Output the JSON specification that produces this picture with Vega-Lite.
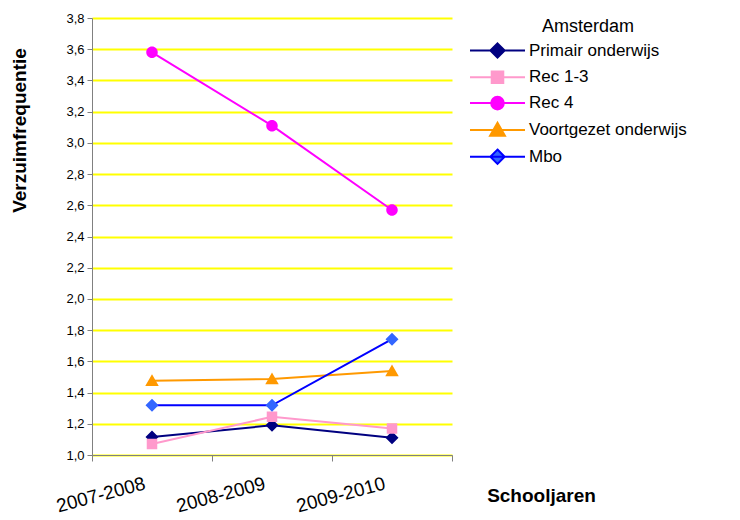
{
  "$schema": "https://vega.github.io/schema/vega-lite/v6.json",
  "width": 360,
  "height": 437,
  "autosize": "none",
  "padding": {"left": 92, "top": 18, "right": 288, "bottom": 65},
  "background": "white",
  "config": {
    "font": "Liberation Sans",
    "view": {"stroke": null}
  },
  "data": {
    "values": [
      {"serie": "Primair onderwijs", "jaar": "2007-2008", "waarde": 1.115},
      {"serie": "Primair onderwijs", "jaar": "2008-2009", "waarde": 1.19},
      {"serie": "Primair onderwijs", "jaar": "2009-2010", "waarde": 1.11},
      {"serie": "Rec 1-3", "jaar": "2007-2008", "waarde": 1.07},
      {"serie": "Rec 1-3", "jaar": "2008-2009", "waarde": 1.245},
      {"serie": "Rec 1-3", "jaar": "2009-2010", "waarde": 1.17},
      {"serie": "Rec 4", "jaar": "2007-2008", "waarde": 3.58},
      {"serie": "Rec 4", "jaar": "2008-2009", "waarde": 3.11},
      {"serie": "Rec 4", "jaar": "2009-2010", "waarde": 2.57},
      {"serie": "Voortgezet onderwijs", "jaar": "2007-2008", "waarde": 1.475},
      {"serie": "Voortgezet onderwijs", "jaar": "2008-2009", "waarde": 1.487},
      {"serie": "Voortgezet onderwijs", "jaar": "2009-2010", "waarde": 1.538},
      {"serie": "Mbo", "jaar": "2007-2008", "waarde": 1.318},
      {"serie": "Mbo", "jaar": "2008-2009", "waarde": 1.318},
      {"serie": "Mbo", "jaar": "2009-2010", "waarde": 1.742}
    ]
  },
  "encoding": {
    "x": {
      "field": "jaar",
      "type": "nominal",
      "bandPosition": 0.5,
      "scale": {"type": "band", "paddingInner": 0, "paddingOuter": 0},
      "axis": {
        "title": "Schooljaren",
        "titleFont": "Liberation Sans",
        "titleFontSize": 19,
        "titleFontWeight": "bold",
        "titleColor": "black",
        "titleX": 449,
        "titleY": 46,
        "titleAlign": "center",
        "titleBaseline": "alphabetic",
        "labelAngle": -15,
        "labelAlign": "right",
        "labelBaseline": "top",
        "labelFontSize": 19,
        "labelColor": "black",
        "labelPadding": 13,
        "labelOffset": -10,
        "tickBand": "extent",
        "tickColor": "#808080",
        "tickSize": 6,
        "domainColor": "#808080",
        "domainWidth": 1,
        "grid": false
      }
    },
    "y": {
      "field": "waarde",
      "type": "quantitative",
      "scale": {"domain": [1.0, 3.8], "nice": false, "zero": false},
      "axis": {
        "title": "Verzuimfrequentie",
        "titleFont": "Liberation Sans",
        "titleFontSize": 19,
        "titleFontWeight": "bold",
        "titleColor": "black",
        "titleX": -73,
        "titleY": 112,
        "titleAlign": "center",
        "titleBaseline": "middle",
        "titleAngle": -90,
        "values": [1.0, 1.2, 1.4, 1.6, 1.8, 2.0, 2.2, 2.4, 2.6, 2.8, 3.0, 3.2, 3.4, 3.6, 3.8],
        "labelExpr": "replace(format(datum.value, '.1f'), '.', ',')",
        "labelFontSize": 13,
        "labelColor": "black",
        "labelPadding": 3,
        "tickColor": "#808080",
        "tickSize": 5,
        "domainColor": "#808080",
        "grid": true,
        "gridColor": "#FFFF00",
        "gridWidth": 2
      }
    }
  },
  "layer": [
    {
      "mark": {"type": "line", "strokeWidth": 2},
      "encoding": {
        "color": {
          "field": "serie",
          "type": "nominal",
          "scale": {
            "domain": ["Primair onderwijs", "Rec 1-3", "Rec 4", "Voortgezet onderwijs", "Mbo"],
            "range": ["#000080", "#FF99CC", "#FF00FF", "#FF9900", "#0000FF"]
          },
          "legend": {
            "title": "Amsterdam",
            "titleAnchor": "middle",
            "titleFont": "Liberation Sans",
            "titleFontSize": 18,
            "titleFontWeight": "normal",
            "titleColor": "black",
            "titlePadding": 6,
            "orient": "none",
            "legendX": 397,
            "legendY": 0,
            "labelFont": "Liberation Sans",
            "labelFontSize": 17,
            "labelColor": "black",
            "labelOffset": 23,
            "symbolSize": 121,
            "symbolStrokeWidth": 2,
            "rowPadding": 4.8
          }
        }
      }
    },
    {
      "mark": {"type": "point", "filled": true, "opacity": 1, "strokeWidth": 0, "size": 100},
      "encoding": {
        "fill": {
          "field": "serie",
          "type": "nominal",
          "scale": {
            "domain": ["Primair onderwijs", "Rec 1-3", "Rec 4", "Voortgezet onderwijs", "Mbo"],
            "range": ["#000080", "#FF99CC", "#FF00FF", "#FF9900", "#3366FF"]
          },
          "legend": null
        },
        "shape": {
          "field": "serie",
          "type": "nominal",
          "scale": {
            "domain": ["Primair onderwijs", "Rec 1-3", "Rec 4", "Voortgezet onderwijs", "Mbo"],
            "range": [
              "M-5,0H5M0,-1.3L1.3,0L0,1.3L-1.3,0Z",
              "M-5,0H5M-1.05,-1.05H1.05V1.05H-1.05Z",
              "M-5,0H5M-1.15,0A1.15,1.15 0 1,0 1.15,0A1.15,1.15 0 1,0 -1.15,0Z",
              "M-5,0H5M0,-1.3L1.35,1.05H-1.35Z",
              "M-5,0H5M0,-1.3L1.3,0L0,1.3L-1.3,0Z"
            ]
          },
          "legend": null
        }
      }
    }
  ]
}
